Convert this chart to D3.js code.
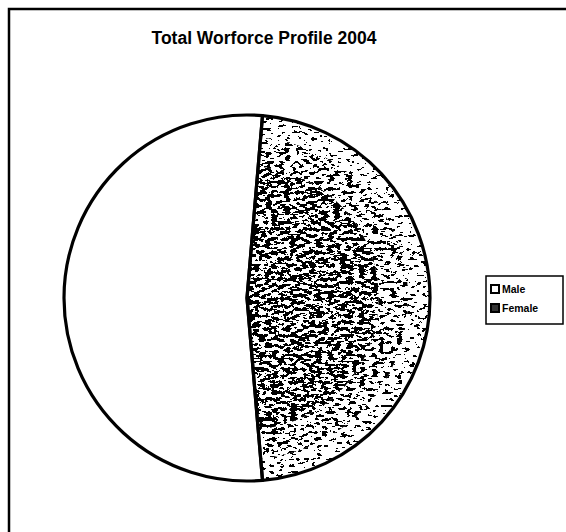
<!DOCTYPE html>
<html>
<head>
<meta charset="utf-8">
<script src="https://cdn.jsdelivr.net/npm/d3@7"></script>
<style>
  html, body { margin: 0; padding: 0; background: #fff; }
  svg { display: block; }
</style>
</head>
<body>
<svg id="chart" width="566" height="532"></svg>
<script>
// Workforce split by gender, 2004
const title = "Total Worforce Profile 2004";
const categories = ["Male", "Female"];
const shares = [52.7, 47.3];

const W = 566, H = 532;
const cx = 247, cy = 298, R = 183;

const svg = d3.select("#chart");
const defs = svg.append("defs");

// Stippled grain filters: same noise, different thresholds (denser toward the middle)
const grainLevels = [
  { id: "grainDense", offset: -0.20 },
  { id: "grainMid",   offset: -0.29 },
  { id: "grainLight", offset: -0.38 }
];
grainLevels.forEach(lv => {
  const f = defs.append("filter")
    .attr("id", lv.id)
    .attr("filterUnits", "userSpaceOnUse")
    .attr("x", -W).attr("y", -H).attr("width", 2 * W).attr("height", 2 * H);
  f.append("feTurbulence")
    .attr("type", "fractalNoise")
    .attr("baseFrequency", "0.16 0.3")
    .attr("numOctaves", 3)
    .attr("seed", 11)
    .attr("result", "noise");
  f.append("feColorMatrix")
    .attr("in", "noise")
    .attr("type", "matrix")
    .attr("values", `0 0 0 0 0  0 0 0 0 0  0 0 0 0 0  1.4 0 0 0 ${lv.offset}`)
    .attr("result", "a");
  f.append("feComponentTransfer").attr("in", "a").attr("result", "t")
    .append("feFuncA").attr("type", "discrete").attr("tableValues", "0 1");
  f.append("feComposite")
    .attr("in", "t").attr("in2", "SourceGraphic").attr("operator", "in");
});

// Outer frame (top and left edges visible)
svg.append("path")
  .attr("d", `M9,${H} L9,9 L${W},9`)
  .attr("fill", "none")
  .attr("stroke", "#000")
  .attr("stroke-width", 2.5);

// Title
svg.append("text")
  .attr("x", 264)
  .attr("y", 44)
  .attr("text-anchor", "middle")
  .attr("font-family", "'Liberation Sans', Arial, sans-serif")
  .attr("font-weight", "bold")
  .attr("font-size", 17.5)
  .attr("fill", "#000")
  .text(title);

// Pie: Male occupies the left side, Female the right
const maleFrac = shares[0] / d3.sum(shares);
const start = (270 - 180 * maleFrac) * Math.PI / 180;
const pie = d3.pie().sort(null).startAngle(start).endAngle(start + 2 * Math.PI);
const arc = d3.arc().innerRadius(0).outerRadius(R);
const arcs = pie(shares);

const g = svg.append("g").attr("transform", `translate(${cx},${cy})`);

g.selectAll("path.base")
  .data(arcs)
  .join("path")
  .attr("class", "base")
  .attr("d", arc)
  .attr("fill", "#fff");

// Female grain drawn as concentric rings of decreasing density
const rings = [
  { r0: 0, r1: R * 0.72, f: "grainDense" },
  { r0: R * 0.72, r1: R * 0.88, f: "grainMid" },
  { r0: R * 0.88, r1: R, f: "grainLight" }
];
const fem = arcs[1];
rings.forEach(rg => {
  g.append("path")
    .attr("d", d3.arc()({
      innerRadius: rg.r0, outerRadius: rg.r1,
      startAngle: fem.startAngle, endAngle: fem.endAngle
    }))
    .attr("fill", "#000")
    .attr("filter", `url(#${rg.f})`);
});

g.selectAll("path.edge")
  .data(arcs)
  .join("path")
  .attr("class", "edge")
  .attr("d", arc)
  .attr("fill", "none")
  .attr("stroke", "#000")
  .attr("stroke-width", 3.2)
  .attr("stroke-linejoin", "round");

// Legend
const lg = svg.append("g").attr("transform", "translate(486,276)");
lg.append("rect")
  .attr("x", 0).attr("y", 0)
  .attr("width", 77).attr("height", 48)
  .attr("fill", "#fff")
  .attr("stroke", "#000")
  .attr("stroke-width", 1.5);

const items = lg.selectAll("g.item")
  .data(categories)
  .join("g")
  .attr("class", "item")
  .attr("transform", (d, i) => `translate(5,${10 + i * 19})`);

items.append("rect")
  .attr("x", 0).attr("y", -1)
  .attr("width", 8).attr("height", 8)
  .attr("fill", (d, i) => i === 0 ? "#fff" : "#333")
  .attr("stroke", "#000")
  .attr("stroke-width", 2);

items.append("text")
  .attr("x", 11)
  .attr("y", 7)
  .attr("font-family", "'Liberation Sans', Arial, sans-serif")
  .attr("font-size", 10.5)
  .attr("font-weight", "bold")
  .attr("fill", "#000")
  .text(d => d);
</script>
</body>
</html>
